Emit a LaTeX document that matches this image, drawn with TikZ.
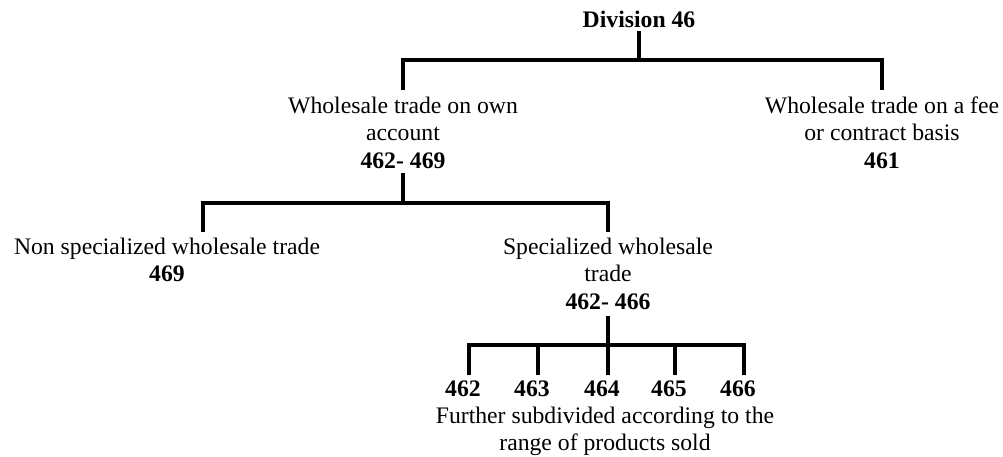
\documentclass[tikz,border=0pt]{standalone}
\usepackage{fontspec}
\setmainfont{Liberation Serif}
\begin{document}
\begin{tikzpicture}[x=1pt,y=-1pt,
  lbl/.style={align=center,inner sep=0pt,outer sep=0pt,anchor=north,font=\fontsize{23.7}{27.5}\selectfont},
  num/.style={lbl,font=\fontsize{23.7}{27.5}\selectfont\bfseries},
  conn/.style={line width=4pt,line join=miter,draw=black}]
\useasboundingbox (0,0) rectangle (1003,456);
% nodes
\node[num] (div) at (639,10.8) {Division 46};
\node[lbl] (woa) at (403,96.8) {Wholesale trade on own\\account\\\textbf{462- 469}};
\node[lbl] (fee) at (882,96.8) {Wholesale trade on a fee\\or contract basis\\\textbf{461}};
\node[lbl] (nsw) at (167,237.8) {Non specialized wholesale trade\\\textbf{469}};
\node[lbl] (spw) at (608,237.8) {Specialized wholesale\\trade\\\textbf{462- 466}};
\node[num] (n462) at (463,381) {462};
\node[num] (n463) at (532,381) {463};
\node[num] (n464) at (602,381) {464};
\node[num] (n465) at (669,381) {465};
\node[num] (n466) at (738,381) {466};
\node[lbl] (note) at (605,406.8) {Further subdivided according to the\\range of products sold};
% junctions
\coordinate (h1) at (639,60);
\coordinate (h2) at (403,203);
\coordinate (h3) at (608,345);
% connectors
\draw[conn,shorten <=4pt] (div.south) -- (h1);
\draw[conn] ([yshift=7pt]woa.north) |- (h1) -| ([yshift=7pt]fee.north);
\draw[conn,shorten <=5pt] (woa.south) -- (h2);
\draw[conn] ([xshift=36pt,yshift=6pt]nsw.north) |- (h2) -| ([yshift=6pt]spw.north);
\draw[conn,shorten <=7pt] (spw.south) -- (h3);
\draw[conn] ([xshift=6pt,yshift=6pt]n462.north) |- (h3) -| ([xshift=6pt,yshift=6pt]n466.north);
\draw[conn] ([xshift=6pt,yshift=6pt]n463.north) -- ([xshift=6pt]n463.north |- h3);
\draw[conn] ([xshift=6pt,yshift=6pt]n464.north) -- ([xshift=6pt]n464.north |- h3);
\draw[conn] ([xshift=6pt,yshift=6pt]n465.north) -- ([xshift=6pt]n465.north |- h3);
\end{tikzpicture}
\end{document}
